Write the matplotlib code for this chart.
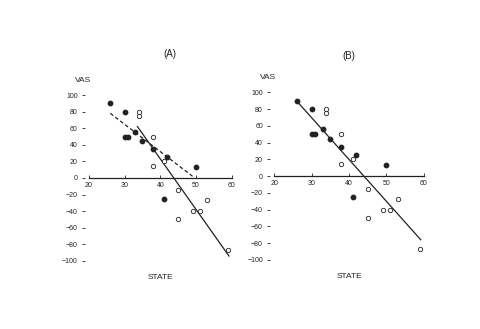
import numpy as np
import matplotlib.pyplot as plt

plt.rcParams['font.family'] = ['Liberation Sans', 'DejaVu Sans']

# STATE / VAS, filled symbols
state_filled = [26, 30, 30, 31, 33, 35, 38, 42, 50, 41]
vas_filled = [90, 80, 50, 50, 56, 45, 35, 25, 13, -25]
# open symbols
state_open = [34, 34, 38, 38, 41, 45, 45, 49, 51, 53, 59]
vas_open = [80, 75, 50, 15, 20, -15, -50, -40, -40, -27, -87]

# fitted lines: (intercept, slope, x start, x end)
fit_a_solid = (267.0, -6.1, 33.6, 59.2)
fit_a_dash = (163.8, -3.3, 26.0, 49.0)
fit_b_solid = (220.0, -5.0, 26.0, 59.2)

xticks = [20, 30, 40, 50, 60]
yticks = [100, 80, 60, 40, 20, 0, -20, -40, -60, -80, -100]

ink = '#222222'

fig = plt.figure(figsize=(4.8, 3.29), dpi=100)
ax_a = fig.add_axes([0.185, 0.207, 0.298, 0.504])
ax_b = fig.add_axes([0.571, 0.210, 0.312, 0.509])


def setup(ax, title, tx, ty):
    ax.set_xlim(20, 60)
    ax.set_ylim(-100, 100)
    for s in ['top', 'right', 'left']:
        ax.spines[s].set_visible(False)
    ax.spines['bottom'].set_position(('data', 0))
    ax.spines['bottom'].set_linewidth(0.9)
    ax.spines['bottom'].set_color(ink)
    ax.spines['left'].set_position(('outward', 3))
    ax.set_xticks(xticks)
    ax.set_yticks(yticks)
    ax.tick_params(axis='x', direction='in', length=2, width=0.6, pad=3,
                   labelsize=5, colors=ink)
    ax.tick_params(axis='y', direction='out', length=2, width=0.6, pad=3,
                   labelsize=5, colors=ink)
    ax.patch.set_alpha(0)
    ax.text(tx, ty, title, transform=ax.transAxes, ha='center',
            va='center', fontsize=7, color=ink)
    ax.text(-0.04, 1.09, 'VAS', transform=ax.transAxes, ha='center',
            va='center', fontsize=6, color=ink)
    ax.text(0.5, -0.10, 'STATE', transform=ax.transAxes, ha='center',
            va='center', fontsize=6, color=ink)


def fit_line(ax, fit, style):
    a, b, x0, x1 = fit
    xs = np.array([x0, x1])
    ax.plot(xs, a + b * xs, style, color=ink, lw=0.9, dashes=(3, 2) if style == '--' else (None, None))


setup(ax_a, '(A)', 0.57, 1.245)
setup(ax_b, '(B)', 0.5, 1.22)
for ax in [ax_a, ax_b]:
    ax.scatter(state_filled, vas_filled, s=10, color=ink, zorder=3)
    ax.scatter(state_open, vas_open, s=10, facecolor='white',
               edgecolor=ink, linewidth=0.6, zorder=3)

a, b, x0, x1 = fit_a_solid
xs = np.array([x0, x1])
ax_a.plot(xs, a + b * xs, '-', color=ink, lw=0.9)
a, b, x0, x1 = fit_a_dash
xs = np.array([x0, x1])
ax_a.plot(xs, a + b * xs, '--', color=ink, lw=0.9, dashes=(3, 2))
a, b, x0, x1 = fit_b_solid
xs = np.array([x0, x1])
ax_b.plot(xs, a + b * xs, '-', color=ink, lw=0.9)

fig.savefig('out.png', dpi=100)
